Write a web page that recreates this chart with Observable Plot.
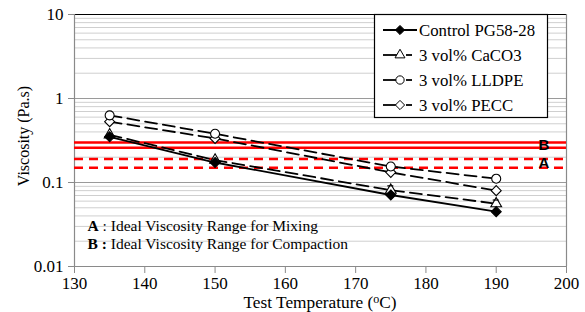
<!DOCTYPE html>
<html>
<head>
<meta charset="utf-8">
<script src="https://cdn.jsdelivr.net/npm/d3@7"></script>
<script src="https://cdn.jsdelivr.net/npm/@observablehq/plot@0.6"></script>
<style>
  html, body { margin: 0; padding: 0; background: #fff; }
  #chart svg { display: block; }
</style>
</head>
<body>
<div id="chart"></div>
<script>
// ---- data ----
const temperatures = [135, 150, 175, 190];
const seriesNames = ["Control PG58-28", "3 vol% CaCO3", "3 vol% LLDPE", "3 vol% PECC"];
const controlValues = [0.35, 0.173, 0.071, 0.045];
const caco3Values = [0.37, 0.185, 0.081, 0.056];
const caco3Err = [0, 0, 0.009, 0.005];
const lldpeValues = [0.63, 0.38, 0.155, 0.111];
const peccValues = [0.53, 0.335, 0.132, 0.080];
const rangeA = [0.15, 0.19];   // mixing
const rangeB = [0.26, 0.30];   // compaction
const xTicks = [130, 140, 150, 160, 170, 180, 190, 200];
const yTicks = [0.01, 0.1, 1, 10];
const yTickLabels = ["0.01", "0.1", "1", "10"];
const notes = [
  {key: "A", sep: " : ", text: "Ideal Viscosity Range for Mixing"},
  {key: "B :", sep: " ", text: "Ideal Viscosity Range for Compaction"}
];

const allValues = [controlValues, caco3Values, lldpeValues, peccValues];
const rows = [];
seriesNames.forEach((s, i) => temperatures.forEach((t, j) => rows.push({series: s, t, v: allValues[i][j]})));
const errRows = temperatures.map((t, j) => ({t, lo: caco3Values[j] - caco3Err[j], hi: caco3Values[j] + caco3Err[j], e: caco3Err[j]}))
  .filter(d => d.e > 0);

const styles = {
  "Control PG58-28": {dash: null, symbol: "diamond2", fill: "black", r: 4.5},
  "3 vol% CaCO3": {dash: "12,6", symbol: "triangle", fill: "white", r: 4},
  "3 vol% LLDPE": {dash: "12,6", symbol: "circle", fill: "white", r: 4.5},
  "3 vol% PECC": {dash: "12,6", symbol: "diamond2", fill: "white", r: 4.5}
};

const minorGrid = [];
[0.01, 0.1, 1].forEach(d => { for (let k = 2; k <= 9; k++) minorGrid.push(d * k); });

const lineMarks = [];
const dotMarks = [];
seriesNames.forEach(s => {
  const st = styles[s];
  const data = rows.filter(r => r.series === s);
  lineMarks.push(Plot.line(data, {x: "t", y: "v", stroke: "black", strokeWidth: 1.8, strokeDasharray: st.dash || undefined}));
});
[...seriesNames].reverse().forEach(s => {
  const st = styles[s];
  const data = rows.filter(r => r.series === s);
  dotMarks.push(Plot.dot(data, {x: "t", y: "v", symbol: () => st.symbol, r: st.r, fill: st.fill, stroke: "black", strokeWidth: 1.1}));
});

const serif = "'Liberation Serif', 'Times New Roman', serif";
const W = 585, H = 312;
const plot = Plot.plot({
  width: W,
  height: H,
  marginLeft: 74,
  marginRight: 19,
  marginTop: 14,
  marginBottom: 46,
  style: {fontFamily: serif, fontSize: "17px", color: "black", background: "white"},
  symbol: {type: "identity"},
  x: {domain: [130, 200], label: null},
  y: {type: "log", domain: [0.01, 10], label: null},
  marks: [
    Plot.ruleY(minorGrid, {stroke: "#cfcfcf", strokeWidth: 1}),
    Plot.ruleY([0.1, 1], {stroke: "#9a9a9a", strokeWidth: 1}),
    Plot.ruleY([10], {stroke: "black", strokeWidth: 1.2}),
    Plot.ruleY([0.01], {stroke: "#8a8a8a", strokeWidth: 1}),
    Plot.ruleX([130, 200], {stroke: "#8a8a8a", strokeWidth: 1.2}),
    Plot.ruleY(rangeB, {stroke: "#ff0000", strokeWidth: 2.5}),
    Plot.ruleY(rangeA, {stroke: "#ff0000", strokeWidth: 2.5, strokeDasharray: "9,6"}),
    ...lineMarks,
    Plot.ruleX(errRows, {x: "t", y1: "lo", y2: "hi", stroke: "black", strokeWidth: 1.2}),
    ...dotMarks,
    Plot.text([{lab: "B", v: Math.sqrt(rangeB[0] * rangeB[1])}, {lab: "A", v: Math.sqrt(rangeA[0] * rangeA[1])}],
      {x: 196.8, y: "v", text: "lab", fontFamily: "'Liberation Sans', Arial, sans-serif", fontWeight: "bold", fontSize: 15, fill: "black"}),
    Plot.axisX({ticks: xTicks, tickSize: 7, tickPadding: 3, stroke: "#8a8a8a", label: null}),
    Plot.axisY({ticks: yTicks, tickFormat: d => yTickLabels[yTicks.indexOf(d)] ?? "", tickSize: 6, tickPadding: 5, stroke: "#8a8a8a", label: null})
  ]
});

const svg = d3.select(plot);
const sx = plot.scale("x"), sy = plot.scale("y");

// error-bar caps, positioned through the scales
errRows.forEach(d => {
  const x = sx.apply(d.t), y = sy.apply(d.hi);
  svg.append("line").attr("x1", x - 3).attr("x2", x + 3).attr("y1", y).attr("y2", y)
    .attr("stroke", "black").attr("stroke-width", 1.2);
});

// axis titles
svg.append("text")
  .attr("x", (sx.apply(130) + sx.apply(200)) / 2).attr("y", 307.5)
  .attr("text-anchor", "middle").attr("font-family", serif).attr("font-size", 17.3).attr("fill", "black")
  .call(t => { t.append("tspan").text("Test Temperature ("); t.append("tspan").attr("font-size", 12).attr("dy", -5).text("o"); t.append("tspan").attr("dy", 5).text("C)"); });
svg.append("text")
  .attr("transform", `translate(29,${(sy.apply(0.01) + sy.apply(10)) / 2 - 4}) rotate(-90)`)
  .attr("text-anchor", "middle").attr("font-family", serif).attr("font-size", 16).attr("fill", "black")
  .text("Viscosity (Pa.s)");

// notes
notes.forEach((n, i) => {
  const t = svg.append("text").attr("x", 87.5).attr("y", 230.5 + i * 18.8).attr("text-anchor", "start")
    .attr("font-family", serif).attr("font-size", 15.5).attr("fill", "black");
  t.append("tspan").attr("font-weight", "bold").text(n.key);
  t.append("tspan").text(n.sep + n.text);
});

// legend
const lg = svg.append("g");
lg.append("rect").attr("x", 374.5).attr("y", 14.5).attr("width", 173).attr("height", 103)
  .attr("fill", "white").attr("stroke", "black").attr("stroke-width", 1.2);
const symGen = {diamond2: d3.symbolDiamond2, triangle: d3.symbolTriangle, circle: d3.symbolCircle};
seriesNames.forEach((s, i) => {
  const st = styles[s];
  const y = 30 + i * 25;
  if (st.dash) {
    lg.append("line").attr("x1", 383).attr("x2", 400).attr("y1", y).attr("y2", y).attr("stroke", "black").attr("stroke-width", 1.8);
    lg.append("line").attr("x1", 406).attr("x2", 412).attr("y1", y).attr("y2", y).attr("stroke", "black").attr("stroke-width", 1.8);
  } else {
    lg.append("line").attr("x1", 383).attr("x2", 417).attr("y1", y).attr("y2", y).attr("stroke", "black").attr("stroke-width", 1.8);
  }
  const area = Math.PI * st.r * st.r * 0.85;
  lg.append("path").attr("d", d3.symbol(symGen[st.symbol], area)()).attr("transform", `translate(400,${y})`)
    .attr("fill", st.fill).attr("stroke", "black").attr("stroke-width", 1);
  lg.append("text").attr("x", 419).attr("y", y + 6).attr("text-anchor", "start")
    .attr("font-family", serif).attr("font-size", 16.8).attr("fill", "black").text(s);
});

document.getElementById("chart").appendChild(plot);
</script>
</body>
</html>
